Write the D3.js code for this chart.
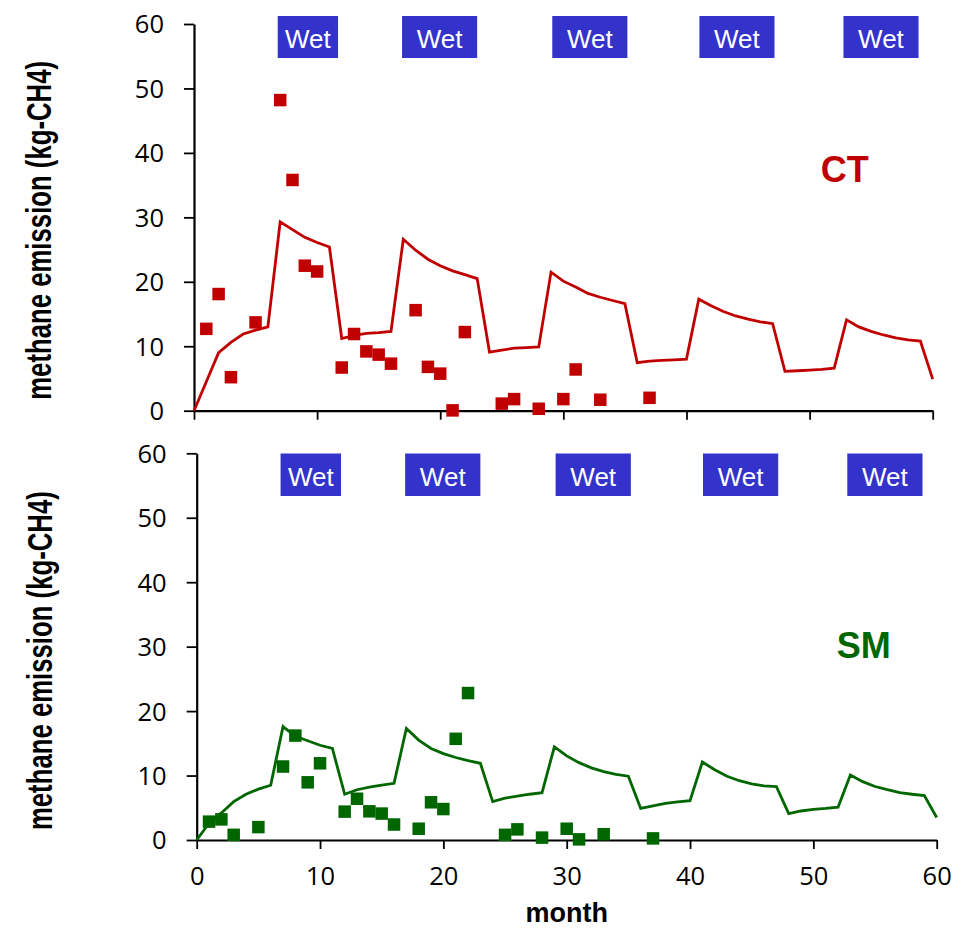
<!DOCTYPE html>
<html>
<head>
<meta charset="utf-8">
<script src="https://cdn.jsdelivr.net/npm/d3@7"></script>
<style>
  html, body { margin: 0; padding: 0; background: #fff; }
  svg { display: block; }
</style>
</head>
<body>
<svg id="chart" width="962" height="928"></svg>
<script>
// ---------------- DATA ----------------
const months = d3.range(0, 61);

const ctModel = [0, 4.5, 9.0, 10.6, 11.9, 12.5, 13.0, 29.3, 28.1, 26.9, 26.1, 25.4,
  11.2, 11.7, 12.0, 12.1, 12.3, 26.6, 24.9, 23.5, 22.5, 21.7, 21.1, 20.5,
  9.1, 9.4, 9.7, 9.8, 9.9, 21.5, 20.1, 19.2, 18.2, 17.6, 17.1, 16.6,
  7.45, 7.7, 7.8, 7.9, 8.0, 17.3, 16.3, 15.4, 14.7, 14.2, 13.8, 13.5,
  6.1, 6.2, 6.3, 6.4, 6.6, 14.1, 13.0, 12.3, 11.75, 11.3, 11.0, 10.8, 4.9];

const smModel = [0, 2.6, 4.2, 5.95, 7.1, 7.9, 8.5, 17.6, 16.1, 15.4, 14.7, 14.2,
  7.1, 7.8, 8.2, 8.5, 8.8, 17.3, 15.5, 14.2, 13.4, 12.8, 12.3, 11.9,
  5.95, 6.5, 6.8, 7.1, 7.35, 14.45, 13.05, 12.0, 11.2, 10.6, 10.2, 9.9,
  4.9, 5.3, 5.7, 5.9, 6.1, 12.1, 10.9, 9.9, 9.2, 8.7, 8.4, 8.3,
  4.1, 4.5, 4.75, 4.9, 5.1, 10.1, 9.05, 8.3, 7.8, 7.35, 7.1, 6.9, 3.5];

const ctObsMonths = [1, 2, 3, 5, 7, 8, 9, 10, 12, 13, 14, 15, 16, 18, 19, 20, 21, 22, 25, 26, 28, 30, 31, 33, 37];
const ctObsValues = [12.7, 18.1, 5.2, 13.7, 48.2, 35.8, 22.5, 21.6, 6.7, 11.9, 9.2, 8.7, 7.3, 15.6, 6.8, 5.75, 0.05, 12.2, 1.1, 1.8, 0.3, 1.8, 6.4, 1.7, 2.0];

const smObsMonths = [1, 2, 3, 5, 7, 8, 9, 10, 12, 13, 14, 15, 16, 18, 19, 20, 21, 22, 25, 26, 28, 30, 31, 33, 37];
const smObsValues = [2.85, 3.2, 0.8, 2.0, 11.4, 16.2, 8.95, 11.9, 4.4, 6.4, 4.45, 4.1, 2.4, 1.75, 5.85, 4.8, 15.7, 22.8, 0.8, 1.65, 0.37, 1.75, 0.1, 0.9, 0.25];

const wetStart = [6.8, 16.9, 29.1, 41.05, 52.75];
const wetEnd   = [11.7, 23.0, 35.2, 47.15, 58.85];
const wetLabel = "Wet";

const xTicks = [0, 10, 20, 30, 40, 50, 60];
const yTicks = [0, 10, 20, 30, 40, 50, 60];
const xTitle = "month";
const yTitle = "methane emission (kg-CH4)";

// ---------------- LAYOUT ----------------
const RED = "#C00000", GREEN = "#006600", BLUE = "#3333CC";
const svg = d3.select("#chart");

const panels = [
  { name: "CT", model: ctModel, obsM: ctObsMonths, obsV: ctObsValues, color: RED,
    left: 194, right: 932.7, top: 24, bottom: 410.7, boxTop: 16, boxH: 42,
    labelM: 50.9, labelV: 35.5, xLabels: false, titleX: 51, titleShift: 13 },
  { name: "SM", model: smModel, obsM: smObsMonths, obsV: smObsValues, color: GREEN,
    left: 196.7, right: 936.7, top: 453.3, bottom: 840, boxTop: 453.5, boxH: 42.5,
    labelM: 51.9, labelV: 28.2, xLabels: true, titleX: 52, titleShift: 14 }
];

panels.forEach(p => {
  const x = d3.scaleLinear().domain([0, 60]).range([p.left, p.right]);
  const y = d3.scaleLinear().domain([0, 60]).range([p.bottom, p.top]);
  const g = svg.append("g");

  // y axis
  const yAxis = d3.axisLeft(y).tickValues(yTicks).tickSizeInner(10).tickSizeOuter(0).tickPadding(20);
  const ya = g.append("g").attr("transform", `translate(${p.left},0)`).call(yAxis);
  ya.select(".domain").attr("stroke", "#000").attr("stroke-width", 2.2);
  ya.selectAll(".tick line").attr("stroke", "#000").attr("stroke-width", 1.8);
  ya.selectAll(".tick text").attr("font-family", "'Open Sans', 'Noto Sans', sans-serif")
    .attr("font-size", 25.5).attr("fill", "#000").attr("dy", "0.35em");

  // x axis
  const xAxis = d3.axisBottom(x).tickValues(xTicks).tickSizeInner(9).tickSizeOuter(0).tickPadding(18);
  if (!p.xLabels) xAxis.tickFormat("");
  const xa = g.append("g").attr("transform", `translate(0,${p.bottom})`).call(xAxis);
  xa.select(".domain").attr("stroke", "#000").attr("stroke-width", 2.2);
  xa.selectAll(".tick line").attr("stroke", "#000").attr("stroke-width", 1.8);
  xa.selectAll(".tick text").attr("font-family", "'Open Sans', 'Noto Sans', sans-serif")
    .attr("font-size", 25.5).attr("fill", "#000");

  // y title (horizontally condensed like the reference)
  const cy = (p.top + p.bottom) / 2 + p.titleShift;
  g.append("text")
    .attr("transform", `translate(${p.titleX},${cy}) rotate(-90) scale(0.715,1)`)
    .attr("text-anchor", "middle")
    .attr("font-family", "'Liberation Sans', Arial, sans-serif")
    .attr("font-weight", "bold").attr("font-size", 36)
    .attr("fill", "#000").text(yTitle);

  // wet boxes
  const wg = g.append("g");
  wetStart.forEach((s, i) => {
    const e = wetEnd[i];
    wg.append("rect").attr("x", x(s)).attr("y", p.boxTop)
      .attr("width", x(e) - x(s)).attr("height", p.boxH).attr("fill", BLUE);
    wg.append("text").attr("x", (x(s) + x(e)) / 2).attr("y", p.boxTop + p.boxH * 0.755)
      .attr("text-anchor", "middle")
      .attr("font-family", "'Liberation Sans', Arial, sans-serif")
      .attr("font-size", 26).attr("fill", "#fff").text(wetLabel);
  });

  // model line
  const line = d3.line().x((d, i) => x(months[i])).y(d => y(d));
  g.append("path").datum(p.model).attr("d", line)
    .attr("fill", "none").attr("stroke", p.color).attr("stroke-width", 2.8)
    .attr("stroke-linejoin", "miter");

  // observations
  const sz = 12.5;
  g.append("g").selectAll("rect").data(p.obsM).join("rect")
    .attr("x", (d) => x(d) - sz / 2)
    .attr("y", (d, i) => y(p.obsV[i]) - sz / 2)
    .attr("width", sz).attr("height", sz).attr("fill", p.color);

  // panel label
  g.append("text").attr("x", x(p.labelM)).attr("y", y(p.labelV))
    .attr("font-family", "'Liberation Sans', Arial, sans-serif")
    .attr("font-weight", "bold").attr("font-size", 36)
    .attr("fill", p.color).text(p.name);

  if (p.xLabels) {
    g.append("text").attr("x", (p.left + p.right) / 2).attr("y", 922)
      .attr("text-anchor", "middle")
      .attr("font-family", "'Liberation Sans', Arial, sans-serif")
      .attr("font-weight", "bold").attr("font-size", 27)
      .attr("fill", "#000").text(xTitle);
  }
});
</script>
</body>
</html>
